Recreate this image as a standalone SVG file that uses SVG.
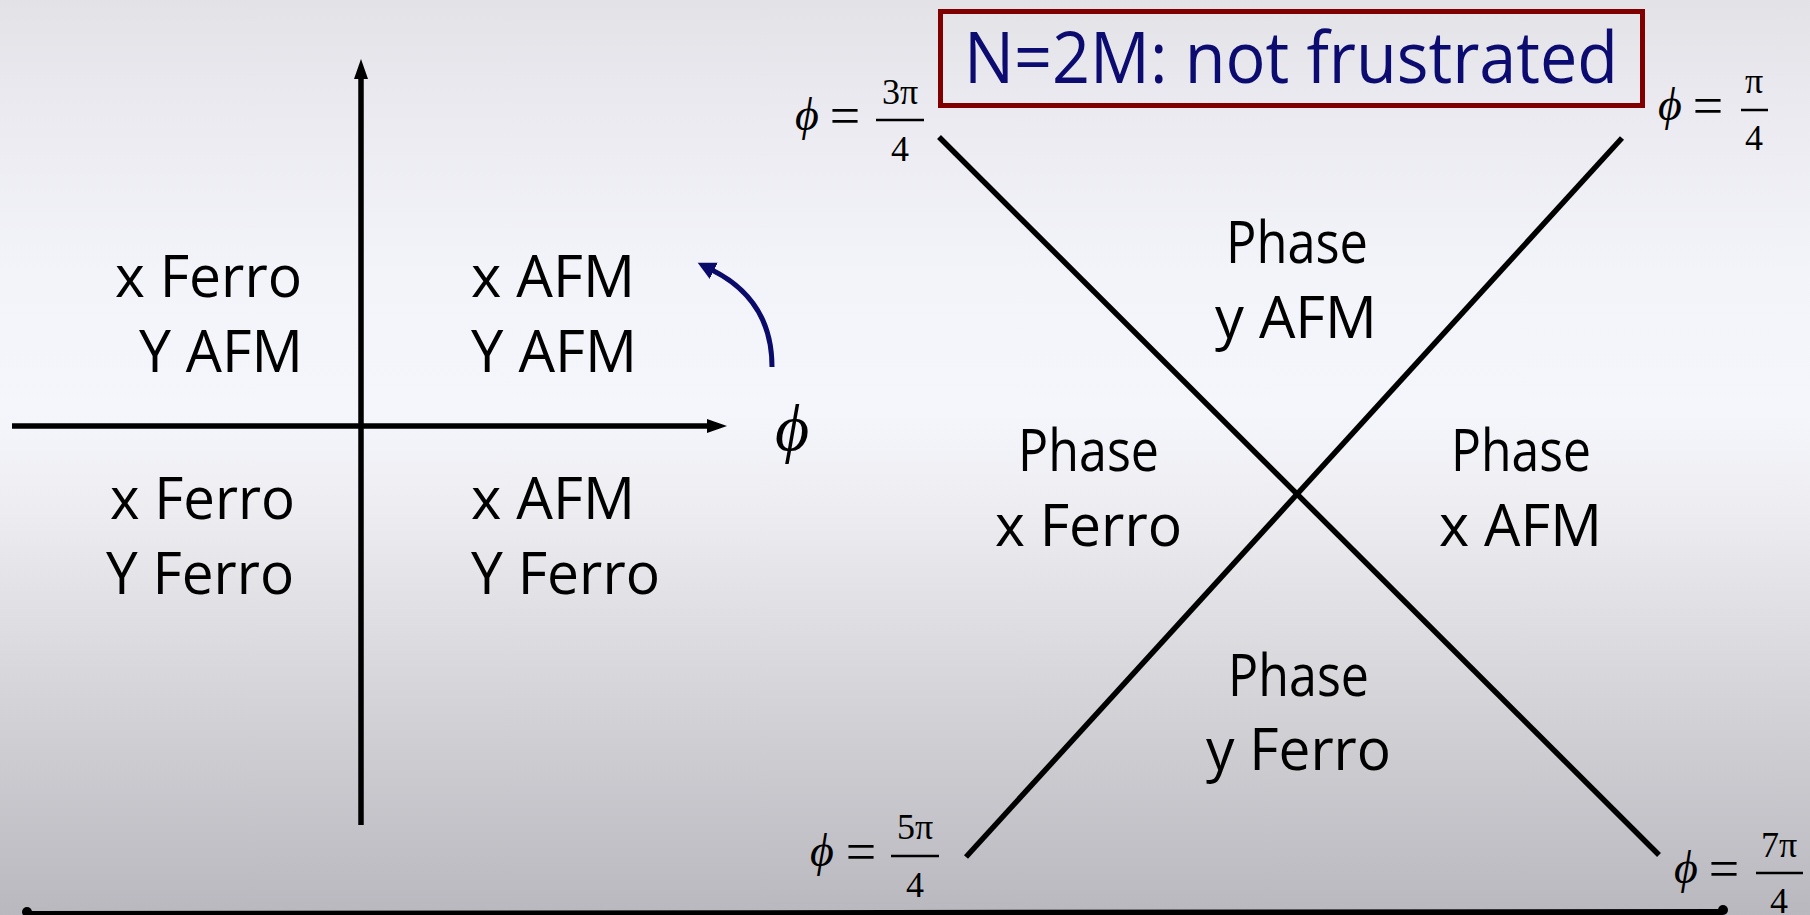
<svg xmlns="http://www.w3.org/2000/svg" width="1810" height="915" viewBox="0 0 1810 915">
<defs>
  <linearGradient id="bg" x1="0" y1="0" x2="0" y2="1">
    <stop offset="0" stop-color="#e2e2e7"/>
    <stop offset="0.12" stop-color="#eaeaf0"/>
    <stop offset="0.3" stop-color="#f3f4f9"/>
    <stop offset="0.45" stop-color="#f5f6fb"/>
    <stop offset="0.56" stop-color="#ececf1"/>
    <stop offset="0.75" stop-color="#d5d5da"/>
    <stop offset="1" stop-color="#b8b8be"/>
  </linearGradient>
  <marker id="ahBlack" markerUnits="userSpaceOnUse" markerWidth="22" markerHeight="16" refX="2" refY="7" orient="auto">
    <path d="M0,0 L20,7 L0,14 z" fill="#000"/>
  </marker>
  <marker id="ahBlue" markerUnits="userSpaceOnUse" markerWidth="22" markerHeight="22" refX="2" refY="9" orient="auto">
    <path d="M0,0 L18,9 L0,18 z" fill="#0a0a6a"/>
  </marker>
  <style>
    .lbl { font-family: "Open Sans", "DejaVu Sans", sans-serif; font-size: 58px; fill: #000; }
    .title { font-family: "Open Sans", "DejaVu Sans", sans-serif; font-size: 72px; fill: #0b0b70; }
    .math { font-family: "Liberation Serif", "DejaVu Serif", serif; fill: #000; }
    .phi { font-style: italic; font-size: 46px; }
    .eq { font-size: 54px; }
    .frac { font-size: 36px; }
    .ln { stroke: #000; stroke-width: 5.5; fill: none; }
  </style>
</defs>

<rect x="0" y="0" width="1810" height="915" fill="url(#bg)"/>

<g id="connectors">
  <line class="ln" x1="361" y1="825" x2="361" y2="77" marker-end="url(#ahBlack)"/>
  <line class="ln" x1="12" y1="426" x2="709" y2="426" marker-end="url(#ahBlack)"/>
  <path d="M772,367 C772,322 752,290 712,270" fill="none" stroke="#0a0a6a" stroke-width="5" marker-end="url(#ahBlue)"/>
  <line class="ln" x1="939" y1="137" x2="1659" y2="855"/>
  <line class="ln" x1="1622" y1="138" x2="966" y2="857"/>
  <line x1="27" y1="914" x2="1723" y2="912" stroke="#000" stroke-width="6"/>
  <circle cx="27" cy="912" r="5" fill="#000"/>
  <circle cx="1723" cy="910" r="5" fill="#000"/>
</g>

<g id="phi-axis-label">
  <text class="math" x="792" y="450" font-size="66" font-style="italic" text-anchor="middle">ϕ</text>
</g>

<g id="title">
  <rect x="940.5" y="11.5" width="702" height="94" fill="none" stroke="#800000" stroke-width="5"/>
  <text class="title" x="964" y="83" textLength="654" lengthAdjust="spacingAndGlyphs">N=2M: not frustrated</text>
</g>

<g id="quad-top-left">
  <text class="lbl" x="115" y="297" textLength="187" lengthAdjust="spacingAndGlyphs">x Ferro</text>
  <text class="lbl" x="139" y="372" textLength="164" lengthAdjust="spacingAndGlyphs">Y AFM</text>
</g>
<g id="quad-top-right">
  <text class="lbl" x="471" y="297" textLength="164" lengthAdjust="spacingAndGlyphs">x AFM</text>
  <text class="lbl" x="471" y="372" textLength="166" lengthAdjust="spacingAndGlyphs">Y AFM</text>
</g>
<g id="quad-bottom-left">
  <text class="lbl" x="110" y="519" textLength="185" lengthAdjust="spacingAndGlyphs">x Ferro</text>
  <text class="lbl" x="106" y="594" textLength="188" lengthAdjust="spacingAndGlyphs">Y Ferro</text>
</g>
<g id="quad-bottom-right">
  <text class="lbl" x="471" y="519" textLength="164" lengthAdjust="spacingAndGlyphs">x AFM</text>
  <text class="lbl" x="471" y="594" textLength="189" lengthAdjust="spacingAndGlyphs">Y Ferro</text>
</g>

<g id="phase-y-afm">
  <text class="lbl" x="1226" y="263" textLength="142" lengthAdjust="spacingAndGlyphs">Phase</text>
  <text class="lbl" x="1215" y="338" textLength="162" lengthAdjust="spacingAndGlyphs">y AFM</text>
</g>
<g id="phase-x-ferro">
  <text class="lbl" x="1018" y="471" textLength="141" lengthAdjust="spacingAndGlyphs">Phase</text>
  <text class="lbl" x="995" y="546" textLength="187" lengthAdjust="spacingAndGlyphs">x Ferro</text>
</g>
<g id="phase-x-afm">
  <text class="lbl" x="1451" y="471" textLength="140" lengthAdjust="spacingAndGlyphs">Phase</text>
  <text class="lbl" x="1439" y="546" textLength="163" lengthAdjust="spacingAndGlyphs">x AFM</text>
</g>
<g id="phase-y-ferro">
  <text class="lbl" x="1228" y="696" textLength="141" lengthAdjust="spacingAndGlyphs">Phase</text>
  <text class="lbl" x="1206" y="770" textLength="185" lengthAdjust="spacingAndGlyphs">y Ferro</text>
</g>

<g id="label-3pi4">
  <text class="math phi" x="807" y="130" text-anchor="middle">ϕ</text>
  <text class="math eq" x="845" y="134" text-anchor="middle">=</text>
  <text class="math frac" x="900" y="104" text-anchor="middle">3π</text>
  <line x1="876" y1="120" x2="924" y2="120" stroke="#000" stroke-width="2.5"/>
  <text class="math frac" x="900" y="161" text-anchor="middle">4</text>
</g>
<g id="label-pi4">
  <text class="math phi" x="1670" y="120" text-anchor="middle">ϕ</text>
  <text class="math eq" x="1708" y="124" text-anchor="middle">=</text>
  <text class="math frac" x="1754" y="93" text-anchor="middle">π</text>
  <line x1="1741" y1="110" x2="1768" y2="110" stroke="#000" stroke-width="2.5"/>
  <text class="math frac" x="1754" y="150" text-anchor="middle">4</text>
</g>
<g id="label-5pi4">
  <text class="math phi" x="822" y="866" text-anchor="middle">ϕ</text>
  <text class="math eq" x="861" y="870" text-anchor="middle">=</text>
  <text class="math frac" x="915" y="839" text-anchor="middle">5π</text>
  <line x1="891" y1="856" x2="939" y2="856" stroke="#000" stroke-width="2.5"/>
  <text class="math frac" x="915" y="897" text-anchor="middle">4</text>
</g>
<g id="label-7pi4">
  <text class="math phi" x="1686" y="883" text-anchor="middle">ϕ</text>
  <text class="math eq" x="1724" y="887" text-anchor="middle">=</text>
  <text class="math frac" x="1779" y="857" text-anchor="middle">7π</text>
  <line x1="1756" y1="873" x2="1803" y2="873" stroke="#000" stroke-width="2.5"/>
  <text class="math frac" x="1779" y="913" text-anchor="middle">4</text>
</g>
</svg>
